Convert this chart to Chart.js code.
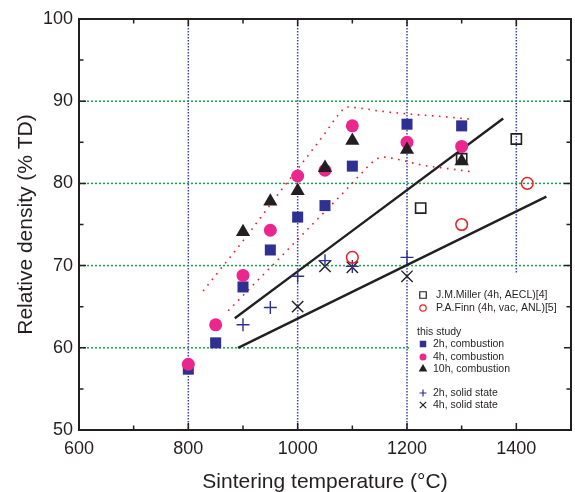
<!DOCTYPE html>
<html>
<head>
<meta charset="utf-8">
<title>Relative density vs sintering temperature</title>
<script src="https://cdn.jsdelivr.net/npm/chart.js@4.4.0/dist/chart.umd.min.js"></script>
<style>
  html, body { margin: 0; padding: 0; background: #fff; }
  #wrap { width: 575px; height: 492px; }
</style>
</head>
<body>
<div id="wrap"><canvas id="chart" width="575" height="492"></canvas></div>
<script>
// values: temperature (°C) -> relative density (% TD)
const combTemps = [800, 850, 900, 950, 1000, 1050, 1100, 1200, 1300];
const comb2h = [57.4, 60.6, 67.4, 71.9, 75.9, 77.3, 82.1, 87.2, 87.0];
const comb4h = [58.0, 62.8, 68.8, 74.3, 80.9, 81.6, 87.0, 85.0, 84.5];
const comb10hTemps = [900, 950, 1000, 1050, 1100, 1200, 1300];
const comb10h = [74.1, 77.8, 79.1, 81.9, 85.2, 84.1, 82.7];

const solid2hTemps = [900, 950, 1000, 1050, 1100, 1200];
const solid2h = [62.8, 64.9, 68.7, 70.6, 69.9, 71.0];
const solid4hTemps = [1000, 1050, 1100, 1200];
const solid4h = [65.0, 69.9, 69.8, 68.7];

const millerTemps = [1225, 1300, 1400];
const miller = [77.0, 83.0, 85.4];
const finnTemps = [1100, 1300, 1420];
const finn = [71.0, 75.0, 80.0];

// straight guide lines (end points)
const fitUpperTemps = [885, 1376];
const fitUpper = [63.6, 87.9];
const fitLowerTemps = [891, 1455];
const fitLower = [60.0, 78.4];

// red dotted envelopes round the combustion data
const envTopTemps = [827, 864, 900, 934, 969, 1004, 1051, 1074, 1090, 1120, 1150, 1211, 1270, 1318];
const envTop = [66.9, 70.0, 73.0, 76.0, 79.1, 82.1, 86.2, 88.3, 89.3, 89.1, 88.8, 88.4, 88.1, 87.8];
const envLowTemps = [873, 918, 977, 1037, 1081, 1112, 1141, 1155, 1184, 1230, 1275, 1321];
const envLow = [64.5, 67.6, 71.6, 75.7, 78.7, 80.9, 82.8, 83.2, 82.9, 82.2, 81.8, 81.4];

// dotted reference grid
const vGrid = [800, 1000, 1200, 1400];
const vGridLow = [50, 50, 50, 69];
const hGrid = [60, 70, 80, 90];
const hGridHigh = [1205, 1500, 1500, 1500];

const xTicks = [600, 800, 1000, 1200, 1400];
const yTicks = [50, 60, 70, 80, 90, 100];

const FONT = '"Liberation Sans", Arial, Helvetica, sans-serif';
const INK = '#231F20';
const BLUE = '#2E3192';
const PINK = '#EC268F';
const RED = '#ED1C24';

const pts = (xs, ys) => xs.map((v, i) => ({ x: v, y: ys[i] }));

const marker = (label, xs, ys, style, radius, fill, stroke, bw) => ({
  label: label,
  data: pts(xs, ys),
  showLine: false,
  pointStyle: style,
  pointRadius: radius,
  pointBackgroundColor: fill,
  pointBorderColor: stroke,
  pointBorderWidth: bw,
});

const line = (label, xs, ys, color, width, dash) => ({
  label: label,
  data: pts(xs, ys),
  showLine: true,
  borderColor: color,
  borderWidth: width,
  borderDash: dash,
  borderCapStyle: 'butt',
  pointRadius: 0,
  cubicInterpolationMode: 'monotone',
  fill: false,
});

// legend rows: [text, x of marker, y, style, radius, fill, stroke, border, x of text]
const legendRows = [
  ['J.M.Miller (4h, AECL)[4]', 423, 295, 'rect', 4.6, 'rgba(0,0,0,0)', INK, 1.2, 436],
  ['P.A.Finn (4h, vac, ANL)[5]', 423, 308, 'circle', 3.2, 'rgba(0,0,0,0)', RED, 1.2, 436],
  ['this study', null, 332, null, 0, null, null, 0, 417],
  ['2h, combustion', 423, 344, 'rect', 4.6, BLUE, BLUE, 0, 433],
  ['4h, combustion', 423, 357, 'circle', 3.5, PINK, PINK, 0, 433],
  ['10h, combustion', 423, 369, 'triangle', 5, INK, INK, 0, 433],
  ['2h, solid state', 423, 393, 'cross', 3.5, BLUE, BLUE, 1.2, 433],
  ['4h, solid state', 423, 405, 'crossRot', 4.5, INK, INK, 1.2, 433],
];

const figure = {
  id: 'figure',
  beforeDatasetsDraw(chart) {
    const { ctx, chartArea: a, scales: { x, y } } = chart;
    ctx.save();
    ctx.lineWidth = 1.5;
    ctx.setLineDash([1.5, 1.5]);
    ctx.strokeStyle = '#3A47A8';
    vGrid.forEach((v, i) => {
      const px = x.getPixelForValue(v);
      ctx.beginPath();
      ctx.moveTo(px, a.top);
      ctx.lineTo(px, y.getPixelForValue(vGridLow[i]));
      ctx.stroke();
    });
    ctx.strokeStyle = '#1BA14B';
    ctx.setLineDash([2, 2]);
    hGrid.forEach((v, i) => {
      const py = y.getPixelForValue(v);
      ctx.beginPath();
      ctx.moveTo(a.left, py);
      ctx.lineTo(x.getPixelForValue(hGridHigh[i]), py);
      ctx.stroke();
    });
    ctx.restore();
  },
  afterDatasetsDraw(chart) {
    const { ctx, chartArea: a, scales: { x, y } } = chart;
    ctx.save();
    ctx.strokeStyle = INK;
    ctx.lineWidth = 2;
    ctx.strokeRect(a.left, a.top, a.right - a.left, a.bottom - a.top);
    ctx.lineWidth = 1.5;
    // inward ticks on all four sides
    x.ticks.forEach(t => {
      const px = x.getPixelForValue(t.value);
      const len = t.value % 200 === 0 ? 7 : 4.5;
      ctx.beginPath();
      ctx.moveTo(px, a.bottom); ctx.lineTo(px, a.bottom - len);
      ctx.moveTo(px, a.top); ctx.lineTo(px, a.top + len);
      ctx.stroke();
    });
    y.ticks.forEach(t => {
      const py = y.getPixelForValue(t.value);
      const len = t.value % 10 === 0 ? 7 : 4.5;
      ctx.beginPath();
      ctx.moveTo(a.left, py); ctx.lineTo(a.left + len, py);
      ctx.moveTo(a.right, py); ctx.lineTo(a.right - len, py);
      ctx.stroke();
    });
    ctx.restore();
  },
  afterDraw(chart) {
    const ctx = chart.ctx;
    ctx.save();
    ctx.font = '10.5px ' + FONT;
    ctx.textBaseline = 'middle';
    ctx.textAlign = 'left';
    legendRows.forEach(r => {
      if (r[3]) {
        ctx.fillStyle = r[5];
        ctx.strokeStyle = r[6];
        ctx.lineWidth = r[7];
        Chart.helpers.drawPoint(ctx, { pointStyle: r[3], radius: r[4], borderWidth: r[7], rotation: 0 }, r[1], r[2]);
      }
      ctx.fillStyle = INK;
      ctx.fillText(r[0], r[8], r[2] + 0.5);
    });
    ctx.restore();
  }
};

new Chart(document.getElementById('chart'), {
  type: 'scatter',
  data: {
    datasets: [
      marker('10h, combustion', comb10hTemps, comb10h, 'triangle', 8.2, INK, INK, 0),
      marker('4h, combustion', combTemps, comb4h, 'circle', 6.5, PINK, PINK, 0),
      marker('2h, combustion', combTemps, comb2h, 'rect', 7.8, BLUE, BLUE, 0),
      marker('J.M.Miller (4h, AECL)[4]', millerTemps, miller, 'rect', 7.2, 'rgba(0,0,0,0)', INK, 1.6),
      marker('P.A.Finn (4h, vac, ANL)[5]', finnTemps, finn, 'circle', 5.8, 'rgba(0,0,0,0)', RED, 1.5),
      marker('2h, solid state', solid2hTemps, solid2h, 'cross', 6.5, BLUE, BLUE, 1.4),
      marker('4h, solid state', solid4hTemps, solid4h, 'crossRot', 8, INK, INK, 1.4),
      line('fit upper', fitUpperTemps, fitUpper, INK, 2.4, []),
      line('fit lower', fitLowerTemps, fitLower, INK, 2.4, []),
      line('envelope top', envTopTemps, envTop, RED, 1.6, [1.6, 5.5]),
      line('envelope low', envLowTemps, envLow, RED, 1.6, [1.6, 5.5]),
    ]
  },
  options: {
    responsive: false,
    animation: false,
    events: [],
    layout: { autoPadding: false, padding: { top: 19, right: 4, left: 0, bottom: 0 } },
    plugins: {
      legend: { display: false },
      tooltip: { enabled: false },
    },
    scales: {
      x: {
        type: 'linear',
        min: 600,
        max: 1500,
        afterBuildTicks: s => {
          s.ticks = [];
          for (let v = 600; v <= 1500; v += 100) s.ticks.push({ value: v });
        },
        afterFit: s => { s.height = 62; s.paddingLeft = 0; s.paddingRight = 0; },
        grid: { display: false, drawTicks: false },
        border: { display: false },
        ticks: {
          padding: 8,
          maxRotation: 0,
          autoSkip: false,
          color: INK,
          font: { family: FONT, size: 18 },
          callback: v => xTicks.includes(v) ? String(v) : '',
        },
        title: {
          display: true,
          text: 'Sintering temperature (°C)',
          color: INK,
          font: { family: FONT, size: 21 },
          padding: { top: 0, bottom: -3 },
        },
      },
      y: {
        type: 'linear',
        min: 50,
        max: 100,
        afterBuildTicks: s => {
          s.ticks = [];
          for (let v = 50; v <= 100; v += 5) s.ticks.push({ value: v });
        },
        afterFit: s => { s.width = 79; },
        grid: { display: false, drawTicks: false },
        border: { display: false },
        ticks: {
          padding: 6,
          autoSkip: false,
          color: INK,
          font: { family: FONT, size: 18 },
          callback: v => yTicks.includes(v) ? String(v) : '',
        },
        title: {
          display: true,
          text: 'Relative density (% TD)',
          color: INK,
          font: { family: FONT, size: 21 },
          padding: { top: 14, bottom: 0 },
        },
      },
    },
  },
  plugins: [figure],
});
</script>
</body>
</html>
